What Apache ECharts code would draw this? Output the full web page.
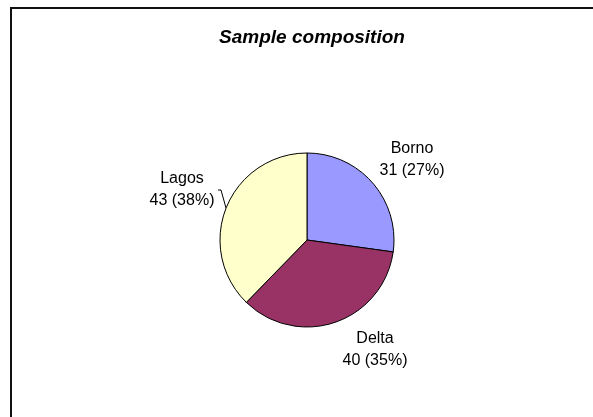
<!DOCTYPE html>
<html>
<head>
<meta charset="utf-8">
<script src="https://cdn.jsdelivr.net/npm/echarts@6/dist/echarts.min.js"></script>
<style>
html,body{margin:0;padding:0;background:#fff;}
#chart{width:593px;height:417px;}
</style>
</head>
<body>
<div id="chart"></div>
<script>
const categories = ['Borno', 'Delta', 'Lagos'];
const values = [31, 40, 43];
const percents = ['27%', '35%', '38%'];
const colors = ['#9999FF', '#993366', '#FFFFCC'];
const titleText = 'Sample composition';

// label block centres (layout only)
const labelPos = [[412, 160], [375, 350], [182, 190]];

const chart = echarts.init(document.getElementById('chart'), null, {renderer: 'canvas'});
const data = categories.map((c, i) => ({
  name: c,
  value: values[i],
  itemStyle: {color: colors[i]},
  labelLine: {show: c === 'Lagos'}
}));

chart.setOption({
  animation: false,
  backgroundColor: '#ffffff',
  title: {
    text: titleText,
    left: 307,
    textAlign: 'center',
    top: 23,
    textStyle: {fontFamily: 'Liberation Sans, Arial', fontStyle: 'italic', fontWeight: 'bold', fontSize: 19, color: '#000'}
  },
  graphic: [{
    type: 'polyline',
    shape: {points: [[11, 417], [11, 8], [593, 8]]},
    style: {stroke: '#111', lineWidth: 2, fill: null}
  }],
  series: [{
    type: 'pie',
    center: [307, 240],
    radius: 87,
    startAngle: 90,
    clockwise: true,
    data: data,
    itemStyle: {borderColor: '#000', borderWidth: 1},
    label: {
      show: true,
      position: 'outside',
      formatter: (p) => p.name + '\n' + p.value + ' (' + percents[p.dataIndex] + ')',
      fontFamily: 'Liberation Sans, Arial',
      fontSize: 16,
      lineHeight: 22,
      color: '#000',
      align: 'center'
    },
    labelLine: {lineStyle: {color: '#000', width: 1}},
    labelLayout: function (params) {
      const pos = labelPos[params.dataIndex];
      const res = {x: pos[0], y: pos[1], align: 'center', verticalAlign: 'middle'};
      if (params.dataIndex === 2) {
        res.labelLinePoints = [[218, 190], [221, 190], [226, 208]];
      }
      return res;
    },
    emphasis: {disabled: true}
  }]
});
</script>
</body>
</html>
